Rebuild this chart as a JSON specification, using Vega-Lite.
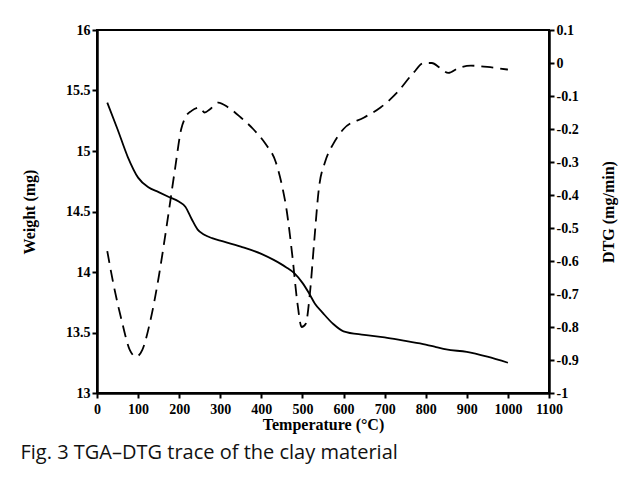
{
  "$schema": "https://vega.github.io/schema/vega-lite/v6.json",
  "autosize": "none",
  "width": 452,
  "height": 363,
  "padding": {"left": 97, "top": 30, "right": 88, "bottom": 87},
  "background": "white",
  "datasets": {
    "tga": [
      {"T": 25, "W": 15.40}, {"T": 50, "W": 15.18}, {"T": 75, "W": 14.95}, {"T": 100, "W": 14.78},
      {"T": 125, "W": 14.70}, {"T": 150, "W": 14.66}, {"T": 175, "W": 14.62}, {"T": 200, "W": 14.58},
      {"T": 215, "W": 14.54}, {"T": 230, "W": 14.44}, {"T": 245, "W": 14.35}, {"T": 260, "W": 14.31},
      {"T": 280, "W": 14.28}, {"T": 300, "W": 14.26}, {"T": 350, "W": 14.21}, {"T": 400, "W": 14.15},
      {"T": 430, "W": 14.10}, {"T": 460, "W": 14.04}, {"T": 480, "W": 13.99}, {"T": 500, "W": 13.91},
      {"T": 515, "W": 13.83}, {"T": 530, "W": 13.74}, {"T": 550, "W": 13.66}, {"T": 575, "W": 13.57},
      {"T": 600, "W": 13.51}, {"T": 650, "W": 13.48}, {"T": 700, "W": 13.46}, {"T": 750, "W": 13.43},
      {"T": 800, "W": 13.40}, {"T": 825, "W": 13.38}, {"T": 850, "W": 13.36}, {"T": 900, "W": 13.34},
      {"T": 950, "W": 13.30}, {"T": 1000, "W": 13.25}
    ],
    "dtg": [
      {"T": 25, "D": -0.57}, {"T": 40, "D": -0.67}, {"T": 60, "D": -0.78}, {"T": 80, "D": -0.87},
      {"T": 95, "D": -0.89}, {"T": 110, "D": -0.87}, {"T": 130, "D": -0.78}, {"T": 150, "D": -0.65},
      {"T": 170, "D": -0.49}, {"T": 190, "D": -0.32}, {"T": 205, "D": -0.2}, {"T": 215, "D": -0.165},
      {"T": 230, "D": -0.145}, {"T": 250, "D": -0.135}, {"T": 262, "D": -0.15}, {"T": 275, "D": -0.14},
      {"T": 295, "D": -0.12}, {"T": 320, "D": -0.135}, {"T": 350, "D": -0.165}, {"T": 380, "D": -0.2},
      {"T": 410, "D": -0.245}, {"T": 435, "D": -0.3}, {"T": 450, "D": -0.37}, {"T": 462, "D": -0.45},
      {"T": 475, "D": -0.58}, {"T": 488, "D": -0.73}, {"T": 498, "D": -0.8}, {"T": 508, "D": -0.79},
      {"T": 518, "D": -0.7}, {"T": 528, "D": -0.55}, {"T": 540, "D": -0.38}, {"T": 555, "D": -0.3},
      {"T": 575, "D": -0.245}, {"T": 600, "D": -0.2}, {"T": 650, "D": -0.165}, {"T": 690, "D": -0.135},
      {"T": 730, "D": -0.09}, {"T": 770, "D": -0.03}, {"T": 795, "D": 0.0}, {"T": 815, "D": 0.0},
      {"T": 835, "D": -0.015}, {"T": 855, "D": -0.03}, {"T": 880, "D": -0.015}, {"T": 910, "D": -0.008},
      {"T": 950, "D": -0.012}, {"T": 1000, "D": -0.02}
    ]
  },
  "title": {
    "text": "Fig. 3  TGA–DTG trace of the clay material",
    "orient": "bottom",
    "anchor": "start",
    "frame": "bounds",
    "font": "Open Sans",
    "fontSize": 20,
    "fontWeight": "normal",
    "color": "#111",
    "offset": 11,
    "dx": -1
  },
  "layer": [
    {
      "data": {"name": "tga"},
      "mark": {"type": "line", "color": "black", "strokeWidth": 1.8, "interpolate": "monotone"},
      "encoding": {
        "x": {"field": "T", "type": "quantitative", "scale": {"domain": [0, 1100]},
          "axis": {"title": "Temperature (°C)", "values": [0,100,200,300,400,500,600,700,800,900,1000,1100], "format": "d", "labelPadding": 4, "titlePadding": 0, "labelOverlap": false, "labelFlush": false}},
        "y": {"field": "W", "type": "quantitative", "scale": {"domain": [13, 16], "zero": false},
          "axis": {"title": "Weight (mg)", "values": [13,13.5,14,14.5,15,15.5,16], "format": "~g", "orient": "left", "titlePadding": 28, "labelOverlap": false, "labelFlush": false}}
      }
    },
    {
      "data": {"name": "dtg"},
      "mark": {"type": "line", "color": "black", "strokeWidth": 1.8, "strokeDash": [12, 7], "interpolate": "monotone"},
      "encoding": {
        "x": {"field": "T", "type": "quantitative", "scale": {"domain": [0, 1100]},
          "axis": {"title": "Temperature (°C)", "values": [0,100,200,300,400,500,600,700,800,900,1000,1100], "format": "d", "labelPadding": 4, "titlePadding": 0, "labelOverlap": false, "labelFlush": false}},
        "y": {"field": "D", "type": "quantitative", "scale": {"domain": [-1, 0.1], "zero": false},
          "axis": {"title": "DTG (mg/min)", "orient": "right", "values": [-1,-0.9,-0.8,-0.7,-0.6,-0.5,-0.4,-0.3,-0.2,-0.1,0,0.1],
            "labelExpr": "replace(format(datum.value, '.1~f'), '−', '-')", "titlePadding": 38, "titleAngle": 270, "labelOverlap": false, "labelFlush": false}}
      }
    }
  ],
  "resolve": {"scale": {"y": "independent"}},
  "config": {
    "view": {"stroke": "black", "strokeWidth": 2},
    "axis": {
      "grid": false,
      "domainColor": "black",
      "domainWidth": 2.5,
      "tickColor": "black",
      "tickWidth": 2,
      "tickSize": 5,
      "labelFont": "Liberation Serif",
      "labelFontWeight": "bold",
      "labelFontSize": 14,
      "labelColor": "black",
      "titleFont": "Liberation Serif",
      "titleFontWeight": "bold",
      "titleFontSize": 16,
      "titleColor": "black"
    }
  }
}
